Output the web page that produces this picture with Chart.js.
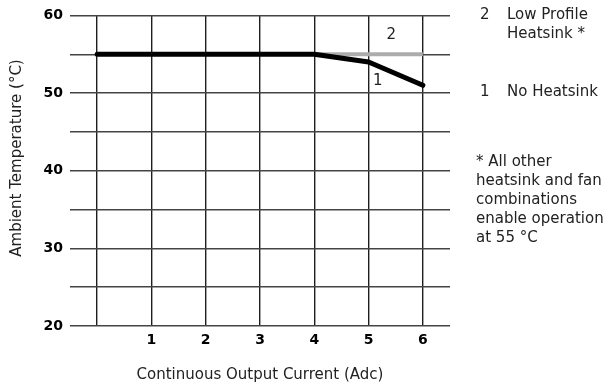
<!DOCTYPE html>
<html lang="en">
<head>
  <meta charset="UTF-8" />
  <title>Derating Curve</title>
  <script src="https://cdn.jsdelivr.net/npm/chart.js"></script>
  <style>
    body { margin: 0; background: #fff; }
    canvas { display: block; }
  </style>
</head>
<body>
  <canvas id="derating" width="612" height="385"></canvas>

  <script>
    // curve 1: no heatsink
    const currentNoSink = [0, 4, 5, 6];
    const tempNoSink = [55, 55, 54, 51];
    // curve 2: low profile heatsink (only where it differs)
    const currentLowProfile = [4, 6];
    const tempLowProfile = [55, 55];

    const xTicks = [0, 1, 2, 3, 4, 5, 6];
    const yMin = 20, yMax = 60, yStep = 5;

    // curve numbers placed inside the plot, in data units
    const curveTags = [
      { text: '2', x: 5.42, y: 57.4 },
      { text: '1', x: 5.17, y: 51.5 }
    ];

    const legendLines = [
      { num: '2', lines: ['Low Profile', 'Heatsink *'], y: 15 },
      { num: '1', lines: ['No Heatsink'], y: 92 }
    ];
    const footnote = ['* All other', 'heatsink and fan', 'combinations', 'enable operation', 'at 55 °C'];
    const yTitle = 'Ambient Temperature (°C)';

    const FONT = "'DejaVu Sans', Verdana, sans-serif";

    const toPoints = (xs, ys) => xs.map((x, i) => ({ x: x, y: ys[i] }));

    const sideText = {
      id: 'sideText',
      afterDraw(chart) {
        const ctx = chart.ctx;
        const sx = chart.scales.x, sy = chart.scales.y;
        ctx.save();
        ctx.fillStyle = '#222';
        ctx.textBaseline = 'middle';
        ctx.font = '15px ' + FONT;

        ctx.textAlign = 'center';
        curveTags.forEach(t => {
          ctx.fillText(t.text, sx.getPixelForValue(t.x), sy.getPixelForValue(t.y));
        });

        // y axis title, sits a bit above the plot centre
        ctx.save();
        ctx.translate(17, 158);
        ctx.rotate(-Math.PI / 2);
        ctx.fillText(yTitle, 0, 0);
        ctx.restore();

        ctx.textAlign = 'left';
        legendLines.forEach(l => {
          ctx.fillText(l.num, 480, l.y);
          l.lines.forEach((s, i) => ctx.fillText(s, 507, l.y + i * 19));
        });
        footnote.forEach((s, i) => ctx.fillText(s, 476, 162 + i * 19));
        ctx.restore();
      }
    };

    new Chart(document.getElementById('derating'), {
      type: 'line',
      data: {
        datasets: [
          {
            data: toPoints(currentNoSink, tempNoSink),
            borderColor: '#000',
            borderWidth: 5,
            borderCapStyle: 'round',
            borderJoinStyle: 'round',
            pointRadius: 0,
            order: 1
          },
          {
            data: toPoints(currentLowProfile, tempLowProfile),
            borderColor: '#acacac',
            borderWidth: 4,
            pointRadius: 0,
            order: 2
          }
        ]
      },
      options: {
        responsive: false,
        animation: false,
        layout: { padding: { top: 14, right: 162, left: 0, bottom: 0 } },
        plugins: {
          legend: { display: false },
          tooltip: { enabled: false }
        },
        scales: {
          x: {
            type: 'linear',
            min: -0.5,
            max: 6.5,
            afterBuildTicks: s => { s.ticks = xTicks.map(v => ({ value: v })); },
            afterFit: s => { s.height = 59; },
            grid: { color: '#1e1e1e', lineWidth: 1.4, drawTicks: false },
            border: { display: false },
            ticks: {
              padding: 6,
              color: '#000',
              font: { family: FONT, size: 14, weight: 'bold' },
              callback: v => (v === 0 ? '' : v)
            },
            title: {
              display: true,
              text: 'Continuous Output Current (Adc)',
              color: '#222',
              font: { family: FONT, size: 15 },
              padding: { top: 0, bottom: 1 }
            }
          },
          y: {
            min: yMin,
            max: yMax,
            afterFit: s => { s.width = 70; },
            grid: { color: '#444', lineWidth: 1.4, drawTicks: false },
            border: { display: false },
            ticks: {
              stepSize: yStep,
              padding: 7,
              color: '#000',
              font: { family: FONT, size: 14, weight: 'bold' },
              callback: v => (v % 10 === 0 ? v : '')
            },
            title: { display: false }
          }
        }
      },
      plugins: [sideText]
    });
  </script>
</body>
</html>
